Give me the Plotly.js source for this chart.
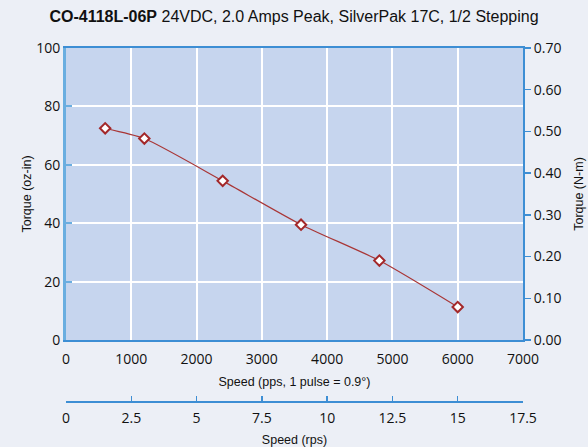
<!DOCTYPE html>
<html>
<head>
<meta charset="utf-8">
<script src="https://cdn.plot.ly/plotly-3.0.1.min.js"></script>
<style>html,body{margin:0;padding:0;background:#eceff6;}#chart{width:588px;height:447px;}</style>
</head>
<body>
<div id="chart"></div>
<script>
var speedPps = [600, 1200, 2400, 3600, 4800, 6000];
var torqueOzIn = [72.5, 69.0, 54.5, 39.5, 27.2, 11.3];
var xTicks = [0, 1000, 2000, 3000, 4000, 5000, 6000, 7000];
var rpsTicks = [0, 2.5, 5, 7.5, 10, 12.5, 15, 17.5];
var nmTicks = [0, 0.1, 0.2, 0.3, 0.4, 0.5, 0.6, 0.7];

var narrow = "Liberation Sans Narrow, Liberation Sans, Arial, sans-serif";
var tickFont = {family: "Open Sans, sans-serif", size: 14, color: "#111"};
var axTitleFont = {family: narrow, size: 12.5, color: "#111"};

var traces = [
  {x: speedPps, y: torqueOzIn, mode: "lines+markers", type: "scatter",
   line: {color: "#a93636", width: 1.2, shape: "spline", smoothing: 0.6},
   marker: {symbol: "diamond", size: 8, color: "#ffffff", line: {color: "#a3282a", width: 2}},
   hoverinfo: "none", showlegend: false},
  {x: [0, 17.5], y: [null, null], xaxis: "x2", yaxis: "y", mode: "lines", showlegend: false, hoverinfo: "none"},
  {x: [0], y: [null], xaxis: "x", yaxis: "y2", mode: "lines", showlegend: false, hoverinfo: "none"}
];

var layout = {
  width: 588, height: 447,
  paper_bgcolor: "#eceff6", plot_bgcolor: "#c6d5ee",
  margin: {l: 66, r: 65, t: 48, b: 45},
  title: {
    text: "<b>CO-4118L-06P</b> 24VDC, 2.0 Amps Peak, SilverPak 17C, 1/2 Stepping",
    font: {family: narrow, size: 16, color: "#111"},
    x: 0.5, xanchor: "center", xref: "container", y: 1, yanchor: "top", yref: "container", pad: {t: 11}
  },
  xaxis: {
    range: [0, 7000], tickvals: xTicks, ticktext: xTicks.map(String),
    showgrid: true, gridcolor: "#ffffff", gridwidth: 2,
    showline: true, linecolor: "#3d8ed4", linewidth: 2, mirror: true,
    ticks: "", tickfont: tickFont, anchor: "y", zeroline: false, ticklabelstandoff: 5,
    title: {text: "Speed (pps, 1 pulse = 0.9°)", font: axTitleFont, standoff: 10}
  },
  xaxis2: {
    range: [0, 17.5], tickvals: rpsTicks, ticktext: rpsTicks.map(String),
    overlaying: "x", anchor: "free", position: 0, side: "bottom",
    showgrid: false, zeroline: false,
    showline: true, linecolor: "#3d8ed4", linewidth: 2,
    ticks: "inside", ticklen: 5, tickcolor: "#3d8ed4", tickwidth: 1.5,
    tickfont: tickFont, ticklabelstandoff: 3,
    title: {text: "Speed (rps)", font: axTitleFont, standoff: 9}
  },
  yaxis: {
    domain: [0.1751, 1], range: [0, 100], tickvals: [0, 20, 40, 60, 80, 100],
    showgrid: true, gridcolor: "#ffffff", gridwidth: 2, zeroline: false,
    showline: true, linecolor: "#6aaee0", linewidth: 3,
    ticks: "inside", ticklen: 6, tickcolor: "#6aaee0", tickwidth: 2,
    tickfont: tickFont,
    title: {text: "Torque (oz-in)", font: axTitleFont, standoff: 2}
  },
  yaxis2: {
    overlaying: "y", side: "right", range: [0, 0.7], tickvals: nmTicks,
    ticktext: nmTicks.map(function(v){return v.toFixed(2);}),
    showgrid: false, zeroline: false,
    showline: true, linecolor: "#3d8ed4", linewidth: 2,
    ticks: "outside", ticklen: 6, tickcolor: "#3d8ed4", tickwidth: 1.5,
    tickfont: tickFont,
    title: {text: "Torque (N-m)", font: axTitleFont, standoff: 14}
  }
};

Plotly.newPlot("chart", traces, layout, {displayModeBar: false, staticPlot: true});
</script>
</body>
</html>
